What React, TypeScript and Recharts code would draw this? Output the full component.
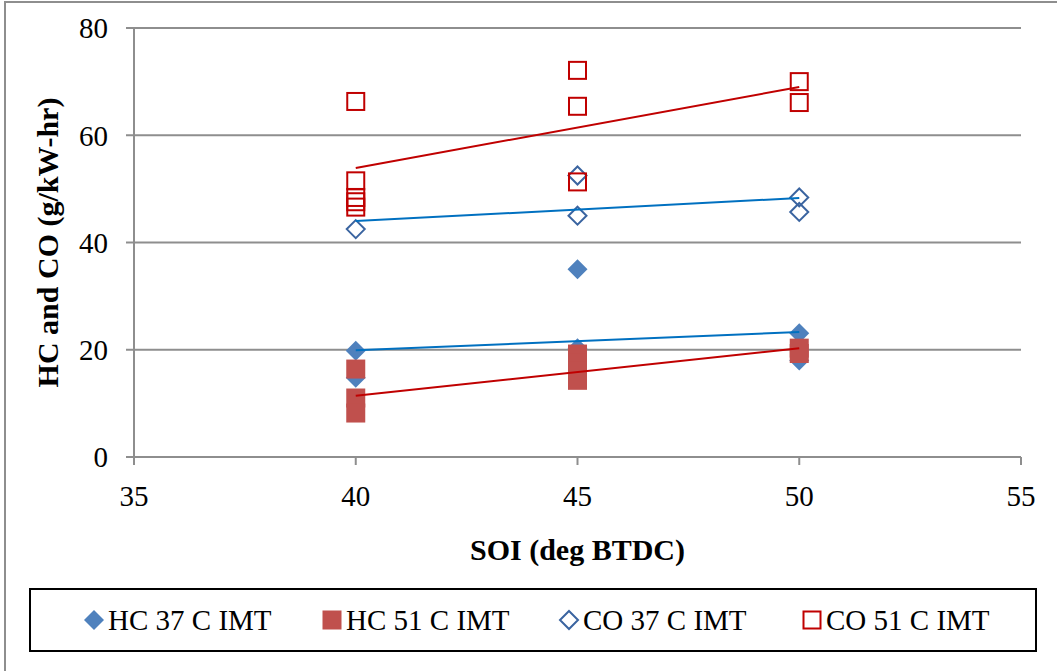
import React from "react";
import { CartesianGrid, Scatter, ScatterChart, XAxis, YAxis } from "recharts";

const xTicks = [35, 40, 45, 50, 55];
const yTicks = [0, 20, 40, 60, 80];

const hc37X = [40, 40, 45, 45, 50, 50];
const hc37Y = [19.8, 14.8, 35.0, 20.3, 23.1, 18.0];

const hc51X = [40, 40, 40, 45, 45, 45, 45, 50, 50];
const hc51Y = [16.4, 11.0, 8.2, 19.2, 17.5, 16.0, 14.3, 20.3, 19.3];

const co37X = [40, 45, 45, 50, 50];
const co37Y = [42.5, 52.5, 45.0, 48.4, 45.7];

const co51X = [40, 40, 40, 40, 40, 45, 45, 45, 50, 50];
const co51Y = [66.3, 51.5, 48.4, 47.6, 46.6, 72.1, 65.4, 51.3, 70.0, 66.1];

// linear trend lines, endpoints
const trendX = [40, 50];
const hc37Trend = [19.9, 23.3];
const hc51Trend = [11.4, 20.3];
const co37Trend = [44.0, 48.3];
const co51Trend = [53.9, 69.0];

const legendNames = ["HC 37 C IMT", "HC 51 C IMT", "CO 37 C IMT", "CO 51 C IMT"];

const toPoints = (xs: number[], ys: number[]) => xs.map((x, i) => ({ x, y: ys[i] }));

const font = '"Liberation Serif", "Times New Roman", serif';
const gray = "#8e8e8e";
const blueFill = "#4f81bd";
const redFill = "#c0504d";
const blueLine = "#3a64a0";
const redLine = "#c00000";
const trendBlue = "#0070c0";

const diamond = (fill: string, stroke: string, r: number) => (props: any) => {
  const { cx, cy } = props;
  return (
    <path
      d={`M${cx},${cy - r}L${cx + r},${cy}L${cx},${cy + r}L${cx - r},${cy}Z`}
      fill={fill}
      stroke={stroke}
      strokeWidth={stroke === "none" ? 0 : 2}
    />
  );
};

const square = (fill: string, stroke: string, h: number) => (props: any) => {
  const { cx, cy } = props;
  return (
    <rect
      x={cx - h}
      y={cy - h}
      width={h * 2}
      height={h * 2}
      fill={fill}
      stroke={stroke}
      strokeWidth={stroke === "none" ? 0 : 2}
    />
  );
};

const noDot = () => <g />;

const YTitle = (props: any) => {
  const vb = props.viewBox;
  const cy = vb.y + vb.height / 2;
  return (
    <text
      x={47}
      y={cy}
      transform={`rotate(-90, 47, ${cy})`}
      textAnchor="middle"
      dominantBaseline="central"
      fontFamily={font}
      fontWeight="bold"
      fontSize={30}
      fill="#000"
    >
      HC and CO (g/kW-hr)
    </text>
  );
};

const legendIcons = [
  <svg width={22} height={22}><path d="M11,1L21,11L11,21L1,11Z" fill={blueFill} /></svg>,
  <svg width={22} height={22}><rect x={1.5} y={1.5} width={19} height={19} fill={redFill} /></svg>,
  <svg width={22} height={22}><path d="M11,2L20,11L11,20L2,11Z" fill="#fff" stroke={blueLine} strokeWidth={2} /></svg>,
  <svg width={22} height={22}><rect x={2.5} y={2.5} width={17} height={17} fill="#fff" stroke={redLine} strokeWidth={2} /></svg>,
];
const legendLeft = [52, 290, 527, 770];

export default function App() {
  return (
    <div style={{ position: "absolute", left: 0, top: 0, width: 1057, height: 671, overflow: "hidden", background: "#fff" }}>
      <div
        style={{
          position: "absolute",
          left: 4,
          top: 1,
          width: 1120,
          height: 720,
          border: `2px solid ${gray}`,
        }}
      />
      <div style={{ position: "absolute", left: 0, top: 0 }}>
        <ScatterChart width={1057} height={671} margin={{ top: 28, right: 36, left: 0, bottom: 154 }}>
          <CartesianGrid vertical={false} stroke={gray} strokeWidth={2} />
          <XAxis
            type="number"
            dataKey="x"
            domain={[35, 55]}
            ticks={xTicks}
            height={60}
            stroke={gray}
            strokeWidth={2}
            tickSize={8}
            tickMargin={20}
            tick={{ fill: "#000", fontSize: 29, fontFamily: font }}
            label={{
              value: "SOI (deg BTDC)",
              position: "bottom",
              offset: 22,
              fill: "#000",
              fontSize: 30,
              fontWeight: "bold",
              fontFamily: font,
            }}
          />
          <YAxis
            type="number"
            dataKey="y"
            domain={[0, 80]}
            ticks={yTicks}
            width={134}
            stroke={gray}
            strokeWidth={2}
            tickSize={8}
            tickMargin={18}
            tick={{ fill: "#000", fontSize: 29, fontFamily: font }}
            label={<YTitle />}
          />
          <Scatter data={toPoints(hc37X, hc37Y)} shape={diamond(blueFill, "none", 10)} isAnimationActive={false} />
          <Scatter data={toPoints(hc51X, hc51Y)} shape={square(redFill, "none", 9.5)} isAnimationActive={false} />
          <Scatter data={toPoints(co37X, co37Y)} shape={diamond("none", blueLine, 9)} isAnimationActive={false} />
          <Scatter data={toPoints(co51X, co51Y)} shape={square("none", redLine, 8.5)} isAnimationActive={false} />
          <Scatter data={toPoints(trendX, hc37Trend)} line={{ stroke: trendBlue, strokeWidth: 2 }} shape={noDot} isAnimationActive={false} />
          <Scatter data={toPoints(trendX, hc51Trend)} line={{ stroke: redLine, strokeWidth: 2 }} shape={noDot} isAnimationActive={false} />
          <Scatter data={toPoints(trendX, co37Trend)} line={{ stroke: trendBlue, strokeWidth: 2 }} shape={noDot} isAnimationActive={false} />
          <Scatter data={toPoints(trendX, co51Trend)} line={{ stroke: redLine, strokeWidth: 2 }} shape={noDot} isAnimationActive={false} />
        </ScatterChart>
      </div>
      <div
        style={{
          position: "absolute",
          left: 29,
          top: 588,
          width: 1008,
          height: 64,
          border: "2px solid #000",
          boxSizing: "border-box",
          fontFamily: font,
          fontSize: 29,
        }}
      >
        {legendNames.map((name, i) => (
          <div
            key={name}
            style={{
              position: "absolute",
              left: legendLeft[i],
              top: 0,
              height: 60,
              display: "flex",
              alignItems: "center",
              gap: 3,
              whiteSpace: "nowrap",
            }}
          >
            {legendIcons[i]}
            <span>{name}</span>
          </div>
        ))}
      </div>
    </div>
  );
}
